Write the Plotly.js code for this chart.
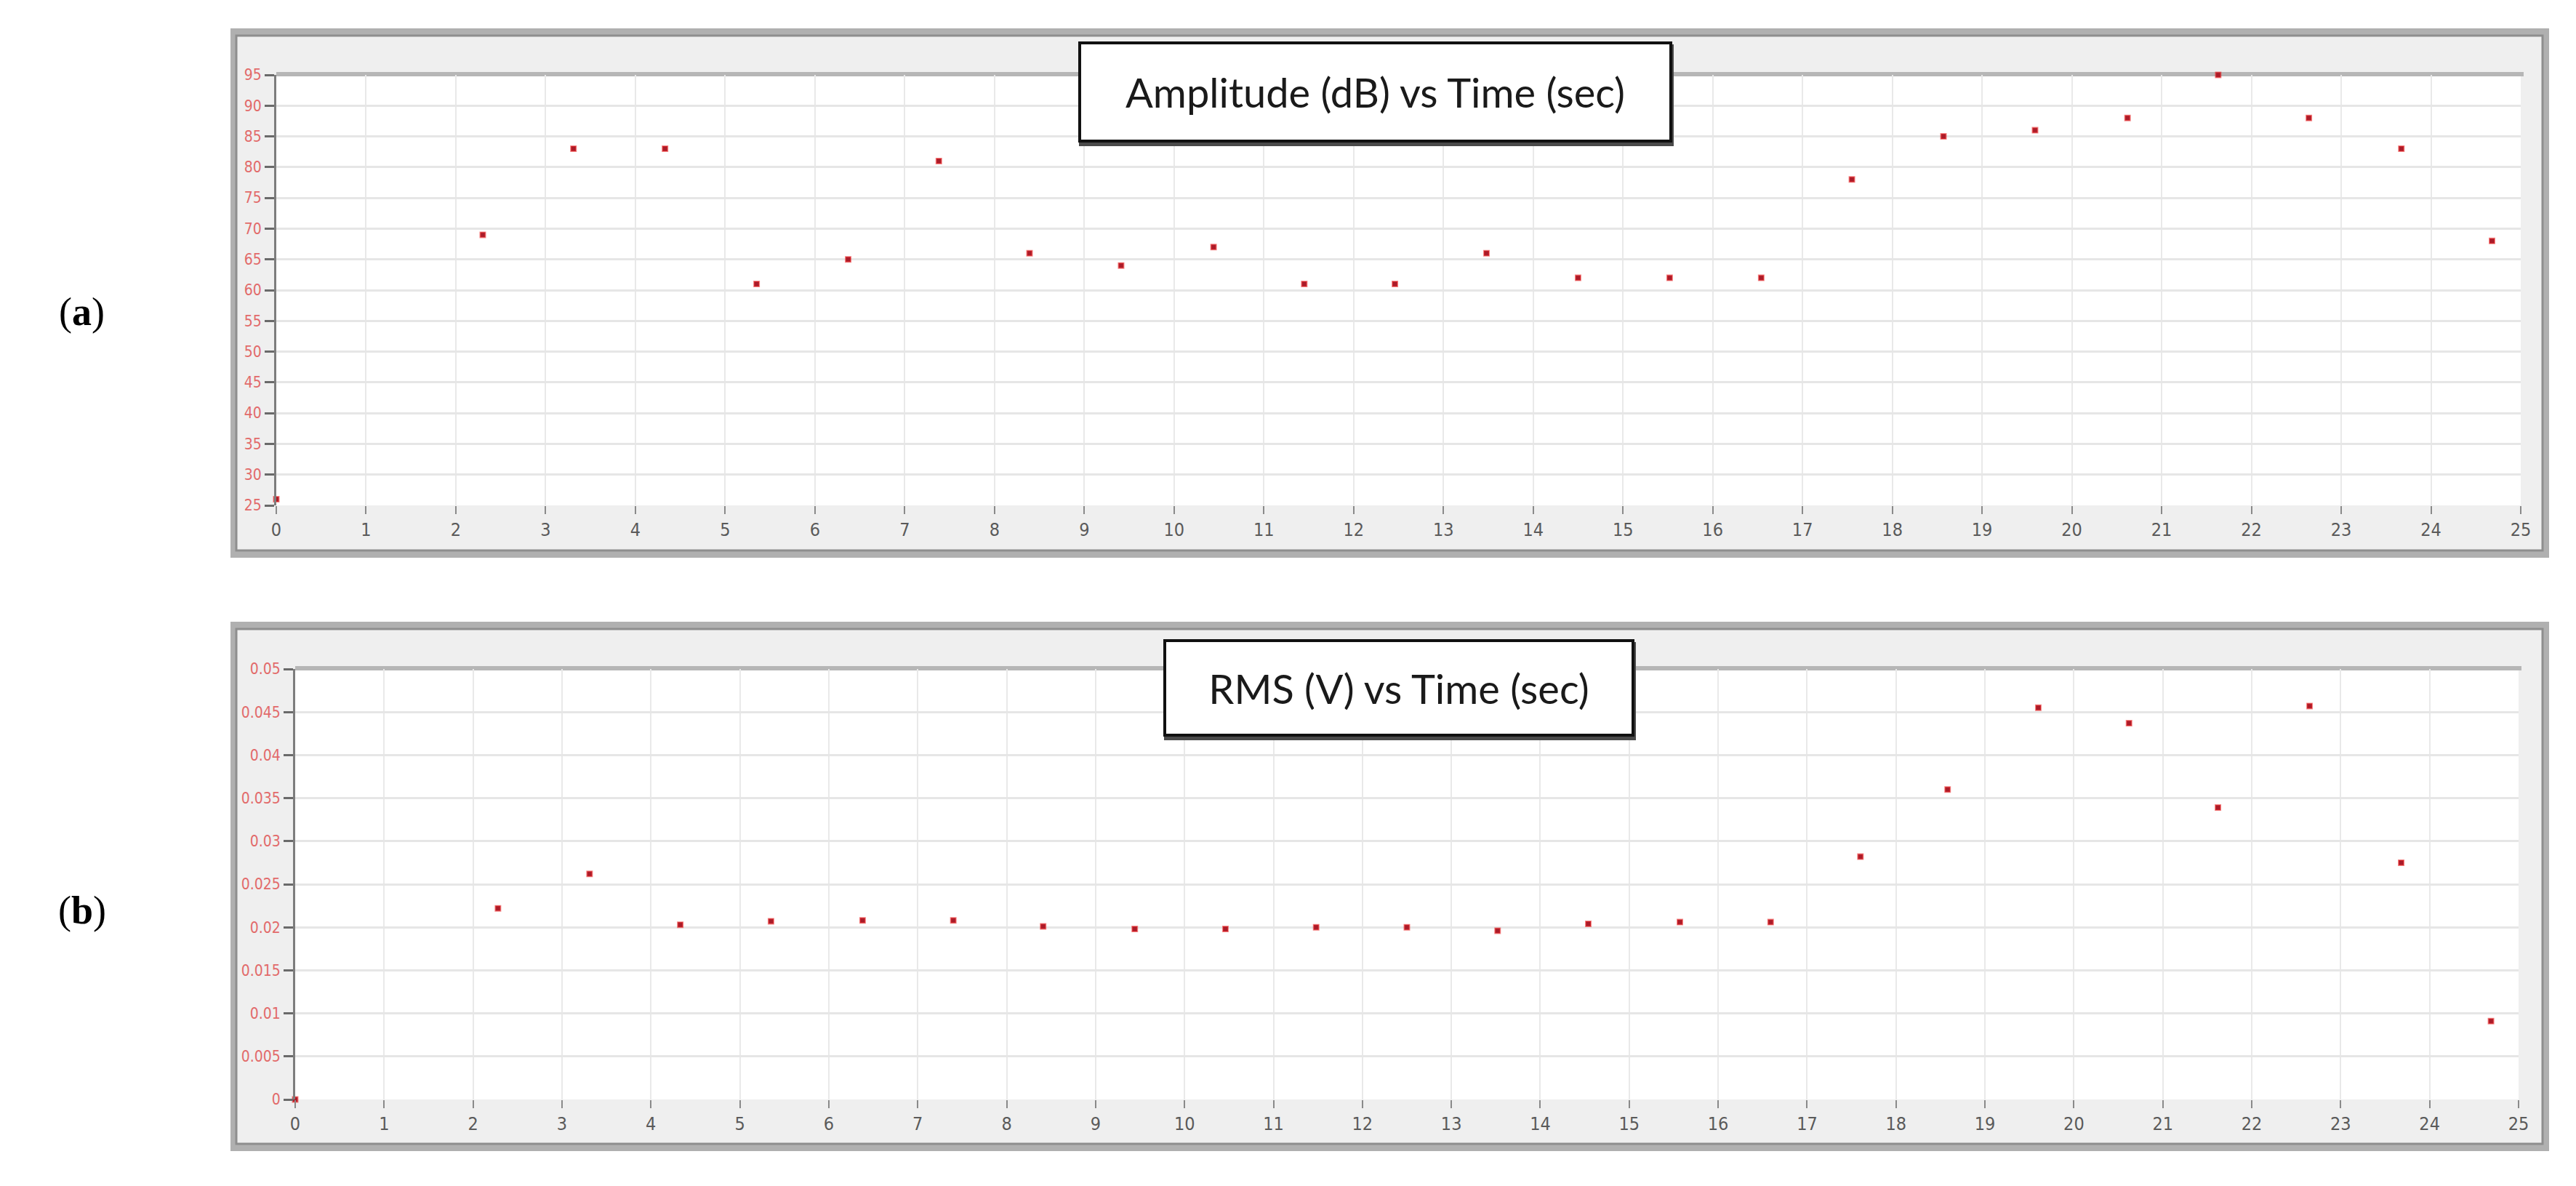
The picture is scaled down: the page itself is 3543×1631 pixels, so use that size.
<!DOCTYPE html>
<html>
<head>
<meta charset="utf-8">
<script src="https://cdn.plot.ly/plotly-3.0.1.min.js"></script>
<style>
  html, body { margin: 0; padding: 0; background: #ffffff; }
  #chart { width: 3543px; height: 1631px; }
</style>
</head>
<body>
<div id="chart"></div>
<script>
// ---------- data ----------
const timeA = [0, 2.30, 3.31, 4.33, 5.35, 6.37, 7.38, 8.39, 9.41, 10.44, 11.45, 12.46, 13.48, 14.50, 15.52, 16.54, 17.55, 18.57, 19.59, 20.62, 21.63, 22.64, 23.67, 24.68];
const amplitudeDb = [26, 69, 83, 83, 61, 65, 81, 66, 64, 67, 61, 61, 66, 62, 62, 62, 78, 85, 86, 88, 95, 88, 83, 68];

const timeB = [0, 2.28, 3.31, 4.33, 5.35, 6.38, 7.40, 8.41, 9.44, 10.46, 11.48, 12.50, 13.52, 14.54, 15.57, 16.59, 17.60, 18.58, 19.60, 20.62, 21.62, 22.65, 23.68, 24.69];
const rmsV = [0, 0.0222, 0.0262, 0.0203, 0.0207, 0.0208, 0.0208, 0.0201, 0.0198, 0.0198, 0.0200, 0.0200, 0.0196, 0.0204, 0.0206, 0.0206, 0.0282, 0.0360, 0.0455, 0.0437, 0.0339, 0.0457, 0.0275, 0.0091];

const titleA = "Amplitude (dB) vs Time (sec)";
const titleB = "RMS (V) vs Time (sec)";
const panelLabels = ["(<b>a</b>)", "(<b>b</b>)"];

// ---------- layout helpers ----------
const W = 3543, H = 1631;
const fx = px => px / W;
const fy = py => 1 - py / H;

const tickFontY = {family: "Liberation Sans Narrow, DejaVu Sans Condensed, Roboto, sans-serif", size: 21, color: "#e26a6a"};
const tickFontX = {family: "Liberation Sans Narrow, DejaVu Sans Condensed, Roboto, sans-serif", size: 25, color: "#5a5a5a"};

const markerStyle = {symbol: "square", size: 7, color: "#a81c2a", line: {color: "rgba(235,40,40,0.55)", width: 2}};

const traces = [
  {x: timeA, y: amplitudeDb, type: "scatter", mode: "markers", xaxis: "x", yaxis: "y", marker: markerStyle, cliponaxis: false, hoverinfo: "x+y"},
  {x: timeB, y: rmsV, type: "scatter", mode: "markers", xaxis: "x2", yaxis: "y2", marker: markerStyle, cliponaxis: false, hoverinfo: "x+y"}
];

function xAxis(d0, d1, anchor) {
  return {
    domain: [fx(d0), fx(d1)], anchor: anchor, range: [0, 25], tick0: 0, dtick: 1,
    showgrid: true, gridcolor: "#e9e9e9", gridwidth: 2,
    zeroline: false, showline: false,
    ticks: "outside", ticklen: 11, tickwidth: 2, tickcolor: "#8a8a8a",
    tickfont: tickFontX, fixedrange: true
  };
}
function yAxis(d0, d1, anchor, range, dtick) {
  return {
    domain: [fy(d1), fy(d0)], anchor: anchor, range: range, tick0: range[0], dtick: dtick,
    showgrid: true, gridcolor: "#e6e6e6", gridwidth: 3,
    zeroline: false, showline: true, linecolor: "#7d7d7d", linewidth: 3,
    ticks: "outside", ticklen: 13, tickwidth: 3, tickcolor: "#6a6a6a",
    tickfont: tickFontY, fixedrange: true
  };
}

function frame(x0, x1, y0, y1) {
  return [
    {type: "rect", xref: "paper", yref: "paper", layer: "below",
     x0: fx(x0), x1: fx(x1), y0: fy(y1), y1: fy(y0),
     fillcolor: "#b0b0b0", line: {width: 0}},
    {type: "rect", xref: "paper", yref: "paper", layer: "below",
     x0: fx(x0 + 8), x1: fx(x1 - 9), y0: fy(y1 - 10), y1: fy(y0 + 10),
     fillcolor: "#efefef", line: {color: "#8e8e8e", width: 3}}
  ];
}
function plotBg(x0, x1, y0, y1) {
  return [
    {type: "rect", xref: "paper", yref: "paper", layer: "below",
     x0: fx(x0), x1: fx(x1), y0: fy(y1), y1: fy(y0),
     fillcolor: "#ffffff", line: {width: 0}},
    {type: "line", xref: "paper", yref: "paper", layer: "below",
     x0: fx(x0), x1: fx(x1 + 4), y0: fy(y0 - 1), y1: fy(y0 - 1),
     line: {color: "#b6b6b6", width: 6}}
  ];
}
function shadow(x0, x1, y0, y1) {
  return {type: "rect", xref: "paper", yref: "paper", layer: "above",
          x0: fx(x0 + 1), x1: fx(x1 + 2), y0: fy(y1 + 5), y1: fy(y0 + 4),
          fillcolor: "#4a4a4a", line: {width: 0}};
}

const boxA = [1483, 2300, 57, 196];
const boxB = [1600, 2248, 879, 1013];

const shapes = [].concat(
  frame(317, 3506, 39, 767),
  plotBg(380, 3467, 103, 695),
  frame(317, 3506, 855, 1583),
  plotBg(406, 3464, 920, 1512),
  [shadow(...boxA), shadow(...boxB)]
);

function titleBox(text, x0, x1, y0, y1) {
  return {
    xref: "paper", yref: "paper", x: fx((x0 + x1) / 2), y: fy((y0 + y1) / 2),
    xanchor: "center", yanchor: "middle", showarrow: false,
    text: text, font: {family: "Lato, Open Sans, sans-serif", size: 56, color: "#1a1a1a"},
    bgcolor: "#ffffff", bordercolor: "#111111", borderwidth: 4, borderpad: 0,
    width: (x1 - x0) - 8, height: (y1 - y0) - 8, align: "center", valign: "middle"
  };
}
function panelLabel(text, px, py) {
  return {
    xref: "paper", yref: "paper", x: fx(px), y: fy(py), xanchor: "center", yanchor: "middle",
    showarrow: false, text: text,
    font: {family: "Liberation Serif, DejaVu Serif, serif", size: 54, color: "#000000"}
  };
}

const layout = {
  width: W, height: H,
  margin: {l: 0, r: 0, t: 0, b: 0},
  paper_bgcolor: "#ffffff", plot_bgcolor: "rgba(0,0,0,0)",
  showlegend: false,
  xaxis: xAxis(380, 3467, "y"),
  yaxis: yAxis(103, 695, "x", [25, 95], 5),
  xaxis2: xAxis(406, 3464, "y2"),
  yaxis2: yAxis(920, 1512, "x2", [0, 0.05], 0.005),
  shapes: shapes,
  annotations: [
    titleBox(titleA, ...boxA),
    titleBox(titleB, ...boxB),
    panelLabel(panelLabels[0], 113, 429),
    panelLabel(panelLabels[1], 113, 1252)
  ]
};

Plotly.newPlot("chart", traces, layout, {displayModeBar: false, responsive: false, staticPlot: true});
</script>
</body>
</html>
